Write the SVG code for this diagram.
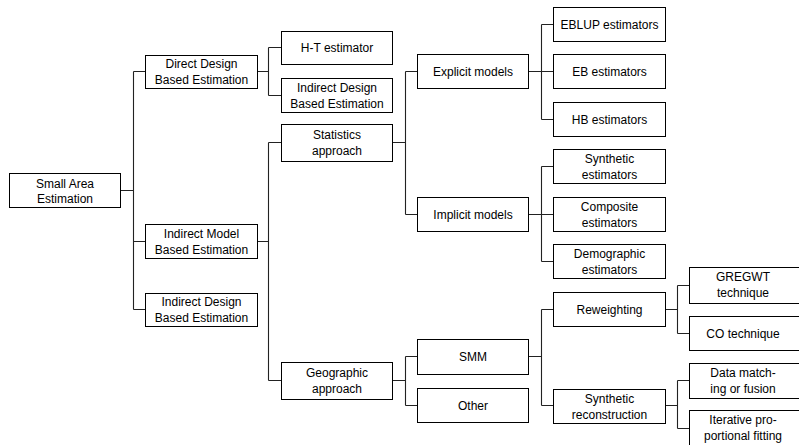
<svg xmlns="http://www.w3.org/2000/svg" width="799" height="445" viewBox="0 0 799 445">
<style>
rect{fill:#fff;stroke:#000;stroke-width:1}
text{font-family:"Liberation Sans",Arial,sans-serif;font-size:12px;fill:#000;text-anchor:middle}
#connectors path{fill:none;stroke:#222;stroke-width:1.1}
</style>
<rect x="0" y="0" width="799" height="445" style="stroke:none"/>
<g id="connectors">
<path d="M120,190.5H133.5M133.5,71.5V309.5M133.5,71.5H145M133.5,241.5H145M133.5,309.5H145"/>
<path d="M257,71.5H268.5M268.5,47.5V95.5M268.5,47.5H281M268.5,95.5H281"/>
<path d="M257,241.5H268.5M268.5,142.5V380.5M268.5,142.5H281M268.5,380.5H281"/>
<path d="M392,142.5H405.5M405.5,71.5V214.5M405.5,71.5H417M405.5,214.5H417"/>
<path d="M392,380.5H405.5M405.5,356.5V405.5M405.5,356.5H417M405.5,405.5H417"/>
<path d="M528,71.5H541.5M541.5,24.5V119.5M541.5,24.5H553M541.5,71.5H553M541.5,119.5H553"/>
<path d="M528,214.5H541.5M541.5,166.5V261.5M541.5,166.5H553M541.5,214.5H553M541.5,261.5H553"/>
<path d="M528,356.5H541.5M541.5,309.5V405.5M541.5,309.5H553M541.5,405.5H553"/>
<path d="M665,309.5H677.5M677.5,285.5V333.5M677.5,285.5H689M677.5,333.5H689"/>
<path d="M665,405.5H677.5M677.5,380.5V428.5M677.5,380.5H689M677.5,428.5H689"/>
</g>
<g id="sae"><rect x="9.5" y="173.5" width="111" height="34"/><text x="65" y="188">Small Area</text><text x="65" y="203">Estimation</text></g>
<g id="ddbe"><rect x="145.5" y="55.5" width="112" height="33"/><text x="201.5" y="68">Direct Design</text><text x="201.5" y="84">Based Estimation</text></g>
<g id="imbe"><rect x="145.5" y="224.5" width="112" height="34"/><text x="201.5" y="238">Indirect Model</text><text x="201.5" y="254">Based Estimation</text></g>
<g id="idbe"><rect x="145.5" y="293.5" width="112" height="33"/><text x="201.5" y="306">Indirect Design</text><text x="201.5" y="322">Based Estimation</text></g>
<g id="ht"><rect x="281.5" y="31.5" width="111" height="33"/><text x="337" y="52">H-T estimator</text></g>
<g id="idbe2"><rect x="281.5" y="78.5" width="111" height="34"/><text x="337" y="92">Indirect Design</text><text x="337" y="108">Based Estimation</text></g>
<g id="stat"><rect x="281.5" y="124.5" width="111" height="37"/><text x="337" y="139">Statistics</text><text x="337" y="155">approach</text></g>
<g id="geo"><rect x="281.5" y="362.5" width="111" height="37"/><text x="337" y="377">Geographic</text><text x="337" y="393">approach</text></g>
<g id="explicit"><rect x="417.5" y="54.5" width="111" height="34"/><text x="473" y="75.5">Explicit models</text></g>
<g id="implicit"><rect x="417.5" y="197.5" width="111" height="34"/><text x="473" y="218.5">Implicit models</text></g>
<g id="smm"><rect x="417.5" y="339.5" width="111" height="35"/><text x="473" y="361">SMM</text></g>
<g id="other"><rect x="417.5" y="388.5" width="111" height="34"/><text x="473" y="409.5">Other</text></g>
<g id="eblup"><rect x="553.5" y="7.5" width="112" height="34"/><text x="609.5" y="28.5">EBLUP estimators</text></g>
<g id="eb"><rect x="553.5" y="54.5" width="112" height="34"/><text x="609.5" y="75.5">EB estimators</text></g>
<g id="hb"><rect x="553.5" y="102.5" width="112" height="34"/><text x="609.5" y="123.5">HB estimators</text></g>
<g id="synth"><rect x="553.5" y="149.5" width="112" height="34"/><text x="609.5" y="163">Synthetic</text><text x="609.5" y="179">estimators</text></g>
<g id="comp"><rect x="553.5" y="197.5" width="112" height="34"/><text x="609.5" y="211">Composite</text><text x="609.5" y="227">estimators</text></g>
<g id="demo"><rect x="553.5" y="244.5" width="112" height="34"/><text x="609.5" y="258">Demographic</text><text x="609.5" y="274">estimators</text></g>
<g id="rew"><rect x="553.5" y="292.5" width="112" height="34"/><text x="609.5" y="313.5">Reweighting</text></g>
<g id="synrec"><rect x="553.5" y="389.5" width="112" height="34"/><text x="609.5" y="403">Synthetic</text><text x="609.5" y="419">reconstruction</text></g>
<g id="greg"><rect x="689.5" y="267.5" width="115" height="36"/><text x="743" y="281">GREGWT</text><text x="743" y="297">technique</text></g>
<g id="co"><rect x="689.5" y="316.5" width="115" height="34"/><text x="743" y="337.5">CO technique</text></g>
<g id="data"><rect x="689.5" y="363.5" width="115" height="35"/><text x="743" y="377">Data match-</text><text x="743" y="393">ing or fusion</text></g>
<g id="ipf"><rect x="689.5" y="410.5" width="115" height="36"/><text x="743" y="424">Iterative pro-</text><text x="743" y="440">portional fitting</text></g>
</svg>
